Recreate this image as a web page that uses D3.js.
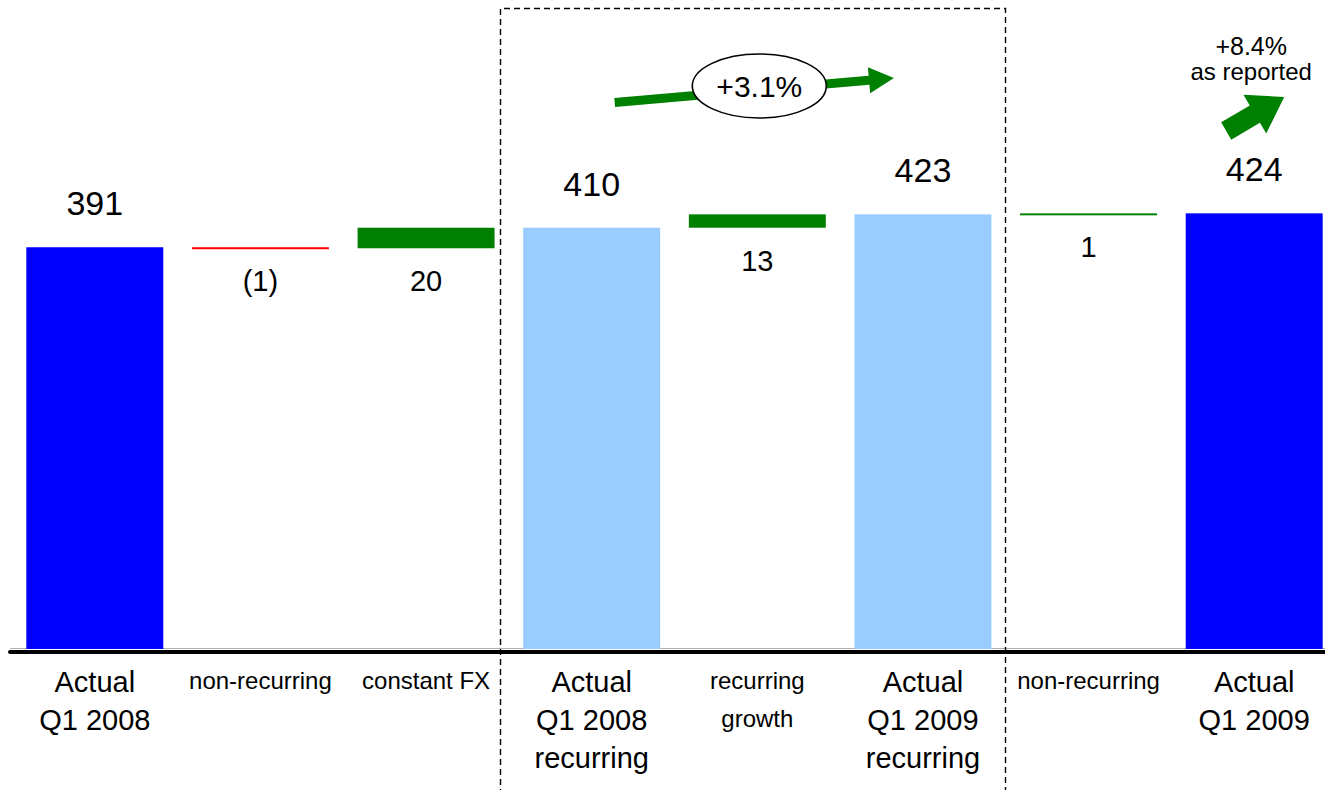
<!DOCTYPE html>
<html>
<head>
<meta charset="utf-8">
<script src="https://cdn.jsdelivr.net/npm/d3@7"></script>
<style>
  html, body { margin: 0; padding: 0; background: #fff; }
  svg { display: block; font-family: "Liberation Sans", Arial, Helvetica, sans-serif; }
</style>
</head>
<body>
<svg id="chart" width="1325" height="790"></svg>
<script>
// ---- data ----
const categories = [
  "Actual\nQ1 2008", "non-recurring", "constant FX",
  "Actual\nQ1 2008\nrecurring", "recurring\ngrowth",
  "Actual\nQ1 2009\nrecurring", "non-recurring", "Actual\nQ1 2009"
];
const values = [391, -1, 20, 410, 13, 423, 1, 424];
const kinds = ["total", "delta", "delta", "subtotal", "delta", "subtotal", "delta", "total"];
const valueLabels = ["391", "(1)", "20", "410", "13", "423", "1", "424"];
const growthLabels = ["+3.1%", "+8.4%", "as reported"];

// ---- build waterfall rows ----
let running = 0;
const rows = categories.map((c, i) => {
  const v = values[i], k = kinds[i];
  let lo, hi;
  if (k === "delta") {
    const start = running; running += v;
    lo = Math.min(start, running); hi = Math.max(start, running);
  } else { running = v; lo = 0; hi = v; }
  return { i, cat: c, v, kind: k, lo, hi, label: valueLabels[i] };
});

const colors = { total: "#0000FF", subtotal: "#99CCFF", up: "#008000", down: "#FF0000" };

const svg = d3.select("#chart");
const W = 1325;
const x = d3.scaleBand().domain(rows.map(d => d.i)).range([12, 1337]).paddingInner(0.173).paddingOuter(0.0865);
const y = d3.scaleLinear().domain([0, 400]).range([649, 238]);

// grey base line
svg.append("line").attr("x1", 10).attr("x2", W).attr("y1", 648.5).attr("y2", 648.5)
  .attr("stroke", "#b0b0b0").attr("stroke-width", 1);

// dashed box
const box = svg.append("g").attr("fill", "none").attr("stroke", "#000")
  .attr("stroke-width", 1.4).attr("stroke-dasharray", "6,4");
box.append("path").attr("d", "M500.5,795 L500.5,8.5 L1005.5,8.5 L1005.5,795");

// bars
svg.append("g").selectAll("rect").data(rows).join("rect")
  .attr("x", d => x(d.i))
  .attr("width", x.bandwidth())
  .attr("y", d => y(d.hi))
  .attr("height", d => Math.max(2, y(d.lo) - y(d.hi)))
  .attr("fill", d => d.kind === "delta" ? (d.v < 0 ? colors.down : colors.up) : colors[d.kind]);

// value labels
svg.append("g").selectAll("text").data(rows).join("text")
  .attr("x", d => x(d.i) + x.bandwidth() / 2)
  .attr("y", d => d.kind === "delta" ? y(d.lo) + 43 : y(d.hi) - 32)
  .attr("text-anchor", "middle")
  .attr("font-size", d => d.kind === "delta" ? 29 : 34)
  .attr("fill", "#000")
  .text(d => d.label);

// category axis
const axis = svg.append("g").attr("transform", "translate(0,652)")
  .call(d3.axisBottom(x).tickSize(0).tickSizeOuter(0).tickFormat(""));
axis.select(".domain").attr("stroke", "#000").attr("stroke-width", 4)
  .attr("d", `M10,0H${W}`).attr("stroke-linecap", "round");
axis.selectAll(".tick text").remove();
axis.selectAll(".tick").each(function(d) {
  const r = rows[d];
  const big = r.kind !== "delta";
  const t = d3.select(this).append("text")
    .attr("text-anchor", "middle").attr("fill", "#000")
    .attr("font-size", big ? 29 : 24)
    .attr("font-family", '"Liberation Sans", Arial, sans-serif');
  r.cat.split("\n").forEach((line, j) => {
    t.append("tspan").attr("x", 0).attr("y", (big ? 40 : 37) + j * 38).text(line);
  });
});

// arrows
function arrowPts(x0, y0, x1, y1, sw, hw, hl) {
  const dx = x1 - x0, dy = y1 - y0, L = Math.hypot(dx, dy);
  const ux = dx / L, uy = dy / L, nx = -uy, ny = ux;
  const bx = x1 - ux * hl, by = y1 - uy * hl;
  return [
    [x0 + nx * sw / 2, y0 + ny * sw / 2], [bx + nx * sw / 2, by + ny * sw / 2],
    [bx + nx * hw / 2, by + ny * hw / 2], [x1, y1],
    [bx - nx * hw / 2, by - ny * hw / 2], [bx - nx * sw / 2, by - ny * sw / 2],
    [x0 - nx * sw / 2, y0 - ny * sw / 2]
  ];
}
const line = d3.line();
const c3 = x(3) + x.bandwidth() / 2, c5 = x(5) + x.bandwidth() / 2, c7 = x(7) + x.bandwidth() / 2;

svg.append("path").attr("d", line(arrowPts(c3 + 23, 102.5, c5 - 29, 78, 9, 26, 25)) + "Z")
  .attr("fill", "#008000");
svg.append("ellipse").attr("cx", (c3 + c5) / 2 + 2).attr("cy", 86).attr("rx", 67).attr("ry", 32)
  .attr("fill", "#fff").attr("stroke", "#000").attr("stroke-width", 1.6);
svg.append("text").attr("x", (c3 + c5) / 2 + 2).attr("y", 97).attr("text-anchor", "middle")
  .attr("font-size", 30).text(growthLabels[0]);

svg.append("path").attr("d", line(arrowPts(c7 - 28, 131, c7 + 30, 97, 20, 45, 34)) + "Z")
  .attr("fill", "#008000");
svg.append("text").attr("x", c7 - 3).attr("y", 55).attr("text-anchor", "middle")
  .attr("font-size", 25).text(growthLabels[1]);
svg.append("text").attr("x", c7 - 3).attr("y", 80).attr("text-anchor", "middle")
  .attr("font-size", 24).text(growthLabels[2]);
</script>
</body>
</html>
